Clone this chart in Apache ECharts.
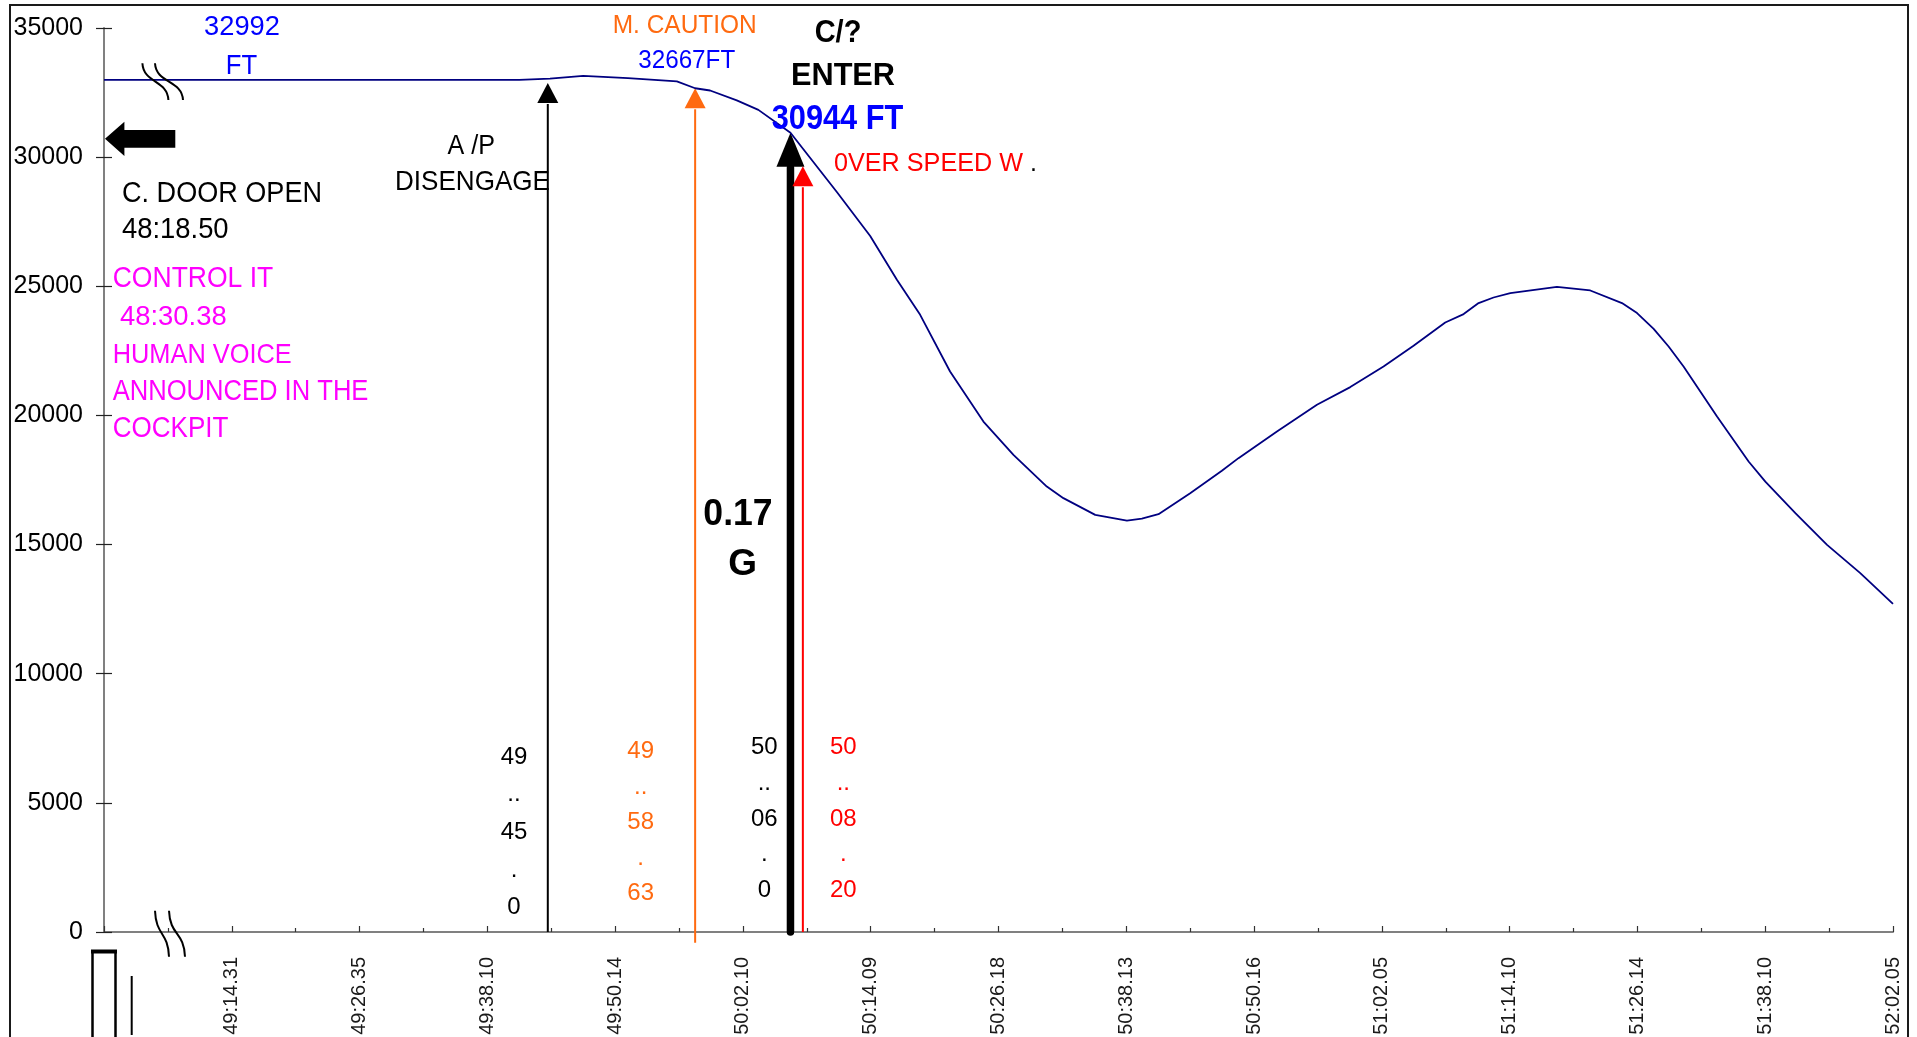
<!DOCTYPE html>
<html>
<head>
<meta charset="utf-8">
<script src="https://cdn.jsdelivr.net/npm/echarts@6/dist/echarts.min.js"></script>
<style>
  html, body { margin: 0; padding: 0; background: #fff; }
  #chart { width: 1917px; height: 1037px; }
</style>
</head>
<body>
<div id="chart"></div>
<script>
// x runs in tick units: one unit per labelled time tick
const tickLabels = ['', '49:14.31', '49:26.35', '49:38.10', '49:50.14', '50:02.10', '50:14.09',
  '50:26.18', '50:38.13', '50:50.16', '51:02.05', '51:14.10', '51:26.14', '51:38.10', '52:02.05'];

const yTicks = { min: 0, max: 35000, step: 5000 };

// altitude trace (ft)
const altX = [0, 3.25, 3.49, 3.75, 4.1, 4.483, 4.626, 4.743, 4.952, 5.121, 5.372, 5.735, 5.996,
  6.205, 6.387, 6.621, 6.882, 7.117, 7.378, 7.508, 7.757, 8.005, 8.122, 8.252, 8.5, 8.748, 8.878,
  9.179, 9.492, 9.753, 10.013, 10.248, 10.496, 10.64, 10.757, 10.874, 11.005, 11.37, 11.631,
  11.879, 11.997, 12.127, 12.244, 12.361, 12.623, 12.87, 13.001, 13.236, 13.484, 13.744, 14.0];
const altFt = [32992, 32992, 33037, 33150, 33060, 32930, 32667, 32580, 32200, 31830, 30944, 28650, 26950,
  25252, 23896, 21701, 19764, 18474, 17247, 16797, 16150, 15930, 16007, 16178, 16991, 17855, 18346,
  19377, 20411, 21097, 21894, 22696, 23598, 23924, 24350, 24566, 24737, 24981, 24838,
  24350, 23962, 23354, 22669, 21894, 19958, 18215, 17440, 16216, 14989, 13892, 12703];

// cockpit events: time, position on the time axis, arrow top and foot (ft)
const eventNames = ['A/P DISENGAGE', 'M. CAUTION', 'C/? ENTER', 'OVER SPEED W.'];
const eventTimes = ['49:45.0', '49:58.63', '50:06.0', '50:08.20'];
const eventX = [3.473, 4.626, 5.372, 5.469];
const eventTopFt = [32870, 32667, 30944, 29650];
const eventFootFt = [0, -415, 0, 0];

const BLUE = '#0000ff', ORANGE = '#ff6a10', RED = '#ff0000', PINK = '#ff00ff', INK = '#000000', NAVY = '#000080';
const FONT = '"Liberation Sans", Arial, sans-serif';

const arrowStyle = [
  { color: INK, width: 2, headW: 21, headH: 20, cap: 'butt' },
  { color: ORANGE, width: 2, headW: 21, headH: 20, cap: 'butt' },
  { color: INK, width: 7.5, headW: 28, headH: 34, cap: 'round' },
  { color: RED, width: 2, headW: 21, headH: 20, cap: 'butt' }
];

const measure = document.createElement('canvas').getContext('2d');
function txt(text, x, y, size, color, o) {
  o = o || {};
  const weight = o.bold ? 'bold' : 'normal';
  let sx = 1;
  if (o.w) {
    measure.font = weight + ' ' + size + 'px ' + FONT;
    sx = o.w / measure.measureText(text).width;
  }
  const style = {
    text: text, fill: color, fontSize: size, fontWeight: weight, fontFamily: FONT,
    align: o.align || 'left', verticalAlign: o.valign || 'middle'
  };
  if (o.lh) style.lineHeight = o.lh;
  return { type: 'text', x: x, y: y, scaleX: sx, z: 20, silent: true, style: style };
}

// event times written vertically, one group per row
function stacked(time) {
  const m = time.match(/^(\d+):(\d+)\.(\d+)$/);
  return [m[1], '..', m[2], '.', m[3]].join('\n');
}

const stackPos = [
  { x: 514, y: 757, lh: 37.7 },
  { x: 640.7, y: 751.7, lh: 35.4 },
  { x: 764.3, y: 747.7, lh: 35.6 },
  { x: 843.3, y: 747.7, lh: 35.6 }
];
const stackColor = [INK, ORANGE, INK, RED];

const notes = [
  txt('32992', 242, 28, 27, BLUE, { align: 'center', w: 75.8 }),
  txt('FT', 241.5, 66.5, 27, BLUE, { align: 'center', w: 31.4 }),
  txt('M. CAUTION', 684.7, 26, 26, ORANGE, { align: 'center', w: 144 }),
  txt('32667FT', 686.7, 61, 26, BLUE, { align: 'center', w: 97 }),
  txt('C/?', 838, 33, 32, INK, { bold: true, align: 'center', w: 46.7 }),
  txt('ENTER', 843, 76, 31, INK, { bold: true, align: 'center', w: 104 }),
  txt('30944 FT', 837.5, 119, 35, BLUE, { bold: true, align: 'center', w: 131.6 }),
  txt('0VER SPEED W', 834, 164, 25, RED, { w: 189 }),
  txt('.', 1030, 164, 25, INK),
  txt('A /P', 447.5, 146.5, 27, INK, { w: 47.5 }),
  txt('DISENGAGE', 395, 182.7, 28, INK, { w: 155 }),
  txt('C. DOOR OPEN', 122, 193.5, 29.5, INK, { w: 200 }),
  txt('48:18.50', 122, 230.3, 29, INK, { w: 106.6 }),
  txt('CONTROL IT', 112.7, 278.8, 29, PINK, { w: 160.6 }),
  txt('48:30.38', 120, 317.3, 28, PINK, { w: 106.7 }),
  txt('HUMAN VOICE', 112.7, 355, 28, PINK, { w: 179 }),
  txt('ANNOUNCED IN THE', 112.7, 392, 29, PINK, { w: 255.7 }),
  txt('COCKPIT', 112.7, 428.8, 29, PINK, { w: 115.7 }),
  txt('0.17', 738, 515, 37, INK, { bold: true, align: 'center', w: 69.3 }),
  txt('G', 742.7, 565, 37, INK, { bold: true, align: 'center' })
];
eventTimes.forEach(function (t, i) {
  const p = stackPos[i];
  notes.push(txt(stacked(t), p.x, p.y - p.lh / 2, 24, stackColor[i], { align: 'center', valign: 'top', lh: p.lh }));
});

// one stroke of an axis-break mark: vertical ends, slanted middle
function breakStroke(x1, y1, x2, y2) {
  return {
    type: 'bezierCurve', z: 15, silent: true,
    shape: { x1: x1, y1: y1, x2: x2, y2: y2, cpx1: x1 + 1, cpy1: y1 + (y2 - y1) * 0.55, cpx2: x2 - 1, cpy2: y1 + (y2 - y1) * 0.45 },
    style: { fill: 'none', stroke: INK, lineWidth: 2 }
  };
}

// frame, axis-break marks, pointer arrow and the box fragments at the lower left
const shapes = [
  { type: 'rect', z: 1, silent: true, shape: { x: 10, y: 5, width: 1898, height: 1200 }, style: { fill: 'none', stroke: '#1a1a1a', lineWidth: 2 } },
  breakStroke(142.4, 63.3, 168.4, 100),
  breakStroke(155, 63.3, 183, 100),
  breakStroke(155, 910.7, 169, 956.7),
  breakStroke(169, 910.7, 185, 956.7),
  { type: 'polygon', z: 15, silent: true, shape: { points: [[105, 138.8], [124.4, 121.7], [124.4, 130], [175.3, 130], [175.3, 147.7], [124.4, 147.7], [124.4, 156]] }, style: { fill: INK } },
  { type: 'rect', z: 15, silent: true, shape: { x: 92.5, y: 951.5, width: 23, height: 200 }, style: { fill: '#fff', stroke: INK, lineWidth: 2.5 } },
  { type: 'line', z: 16, silent: true, shape: { x1: 91, y1: 951.5, x2: 117, y2: 951.5 }, style: { stroke: INK, lineWidth: 4 } },
  { type: 'line', z: 15, silent: true, shape: { x1: 131.7, y1: 976, x2: 131.7, y2: 1035 }, style: { stroke: INK, lineWidth: 2 } }
];

const chart = echarts.init(document.getElementById('chart'), null, { renderer: 'canvas' });

chart.setOption({
  animation: false,
  backgroundColor: '#ffffff',
  grid: { left: 104, right: 24, top: 28, bottom: 105, containLabel: false, outerBoundsMode: 'none' },
  xAxis: {
    type: 'value', min: 0, max: tickLabels.length - 1, interval: 1,
    axisLine: { show: true, onZero: false, lineStyle: { color: '#808080', width: 2 } },
    axisTick: { show: true, inside: true, length: 6, lineStyle: { color: '#333', width: 1.2 } },
    minorTick: { show: true, splitNumber: 2, length: 4, lineStyle: { color: '#333', width: 1.2 } },
    splitLine: { show: false },
    axisLabel: {
      rotate: 90, margin: 25, fontSize: 20, color: '#1a1a1a', fontFamily: FONT,
      formatter: function (v) { return tickLabels[Math.round(v)] || ''; }
    }
  },
  yAxis: [
    {
      type: 'value', min: yTicks.min, max: yTicks.max, interval: yTicks.step, position: 'left',
      axisLine: { show: true, lineStyle: { color: '#808080', width: 2 } },
      axisTick: { show: true, inside: false, length: 8, lineStyle: { color: '#222', width: 1.2 } },
      splitLine: { show: false },
      axisLabel: {
        margin: 21, fontSize: 25, color: '#000', fontFamily: FONT,
        formatter: function (v) { return String(Math.round(v)); }
      }
    },
    {
      type: 'value', min: yTicks.min, max: yTicks.max, interval: yTicks.step, position: 'left',
      axisLine: { show: false },
      axisTick: { show: true, inside: true, length: 8, lineStyle: { color: '#222', width: 1.2 } },
      splitLine: { show: false },
      axisLabel: { show: false }
    }
  ],
  graphic: { elements: shapes.concat(notes) },
  series: [
    {
      name: 'events',
      type: 'custom',
      clip: false,
      z: 3,
      silent: true,
      data: eventX.map(function (x, i) { return [x, eventTopFt[i], eventFootFt[i]]; }),
      renderItem: function (params, api) {
        const s = arrowStyle[params.dataIndex];
        const tip = api.coord([api.value(0), api.value(1)]);
        const foot = api.coord([api.value(0), api.value(2)]);
        const headBase = tip[1] + s.headH;
        return {
          type: 'group',
          children: [
            { type: 'line', shape: { x1: foot[0], y1: foot[1], x2: tip[0], y2: headBase + 1 },
              style: { stroke: s.color, lineWidth: s.width, lineCap: s.cap } },
            { type: 'polygon', shape: { points: [[tip[0], tip[1]], [tip[0] - s.headW / 2, headBase], [tip[0] + s.headW / 2, headBase]] },
              style: { fill: s.color } }
          ]
        };
      }
    },
    {
      name: 'ALTITUDE',
      type: 'line',
      z: 5,
      silent: true,
      showSymbol: false,
      smooth: false,
      lineStyle: { color: NAVY, width: 1.8 },
      data: altX.map(function (x, i) { return [x, altFt[i]]; })
    }
  ]
});
</script>
</body>
</html>
